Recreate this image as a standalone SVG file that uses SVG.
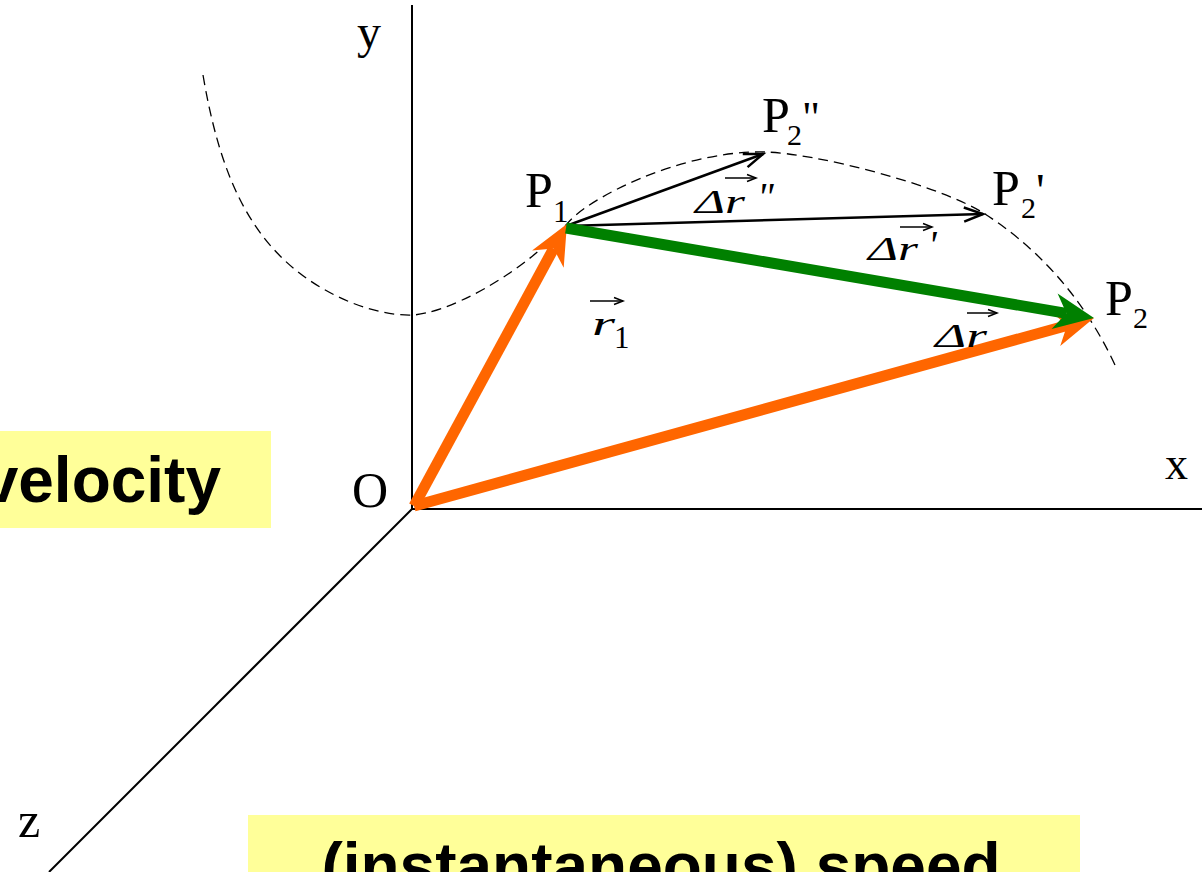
<svg xmlns="http://www.w3.org/2000/svg" width="1202" height="872" viewBox="0 0 1202 872">
<style>
.lbl{font-family:"Liberation Serif","Times New Roman",serif;fill:#000}
.it{font-style:italic}
.big{font-family:"Liberation Sans",Arial,sans-serif;font-weight:bold;font-size:64px;fill:#000}
.axis{stroke:#000;stroke-width:2;fill:none}
.thin{stroke:#000;stroke-width:2.5;fill:none}
.vec{stroke:#000;stroke-width:1.5;fill:none}
</style>
<defs>
<marker id="headO" markerUnits="userSpaceOnUse" markerWidth="50" markerHeight="50" viewBox="0 -25 50 50" refX="12" refY="0" orient="auto" overflow="visible"><path d="M40,0 L0,-18 L12,0 L0,18 Z" fill="#FF6600"/></marker>
<marker id="headG" markerUnits="userSpaceOnUse" markerWidth="50" markerHeight="50" viewBox="0 -25 50 50" refX="12" refY="0" orient="auto" overflow="visible"><path d="M40,0 L0,-18 L12,0 L0,18 Z" fill="#008000"/></marker>
<marker id="headK" markerUnits="userSpaceOnUse" markerWidth="30" markerHeight="30" viewBox="-25 -15 30 30" refX="0" refY="0" orient="auto" overflow="visible"><path d="M-19,-7 L0,0 L-19,7" fill="none" stroke="#000" stroke-width="2.5"/></marker>
<marker id="headV" markerUnits="userSpaceOnUse" markerWidth="16" markerHeight="16" viewBox="-12 -8 16 16" refX="0" refY="0" orient="auto" overflow="visible"><path d="M-9,-3.5 L0,0 L-9,3.5" fill="none" stroke="#000" stroke-width="1.5"/></marker>
</defs>
<rect width="1202" height="872" fill="#fff"/>

<g id="boxes">
<g id="velocity-box"><rect x="-10" y="431" width="281" height="97" fill="#FFFF99"/><text class="big" x="221" y="502" text-anchor="end">velocity</text></g>
<g id="speed-box"><rect x="248" y="815" width="832" height="70" fill="#FFFF99"/><text class="big" x="661" y="888" text-anchor="middle">(instantaneous) speed</text></g>
</g>

<g id="trajectory"><path d="M203,75 C220,175 250,245 320,287 C355,308 390,316 413,315 C445,313 515,280 567,224 C585,200 680,150 765,152 C815,153 940,185 985,214 C1030,243 1080,290 1115,365" fill="none" stroke="#000" stroke-width="1.3" stroke-dasharray="10,6"/></g>

<g id="axes">
<line class="axis" x1="412" y1="5" x2="412" y2="509"/>
<line class="axis" x1="412" y1="509" x2="1202" y2="509"/>
<line class="axis" x1="412" y1="509" x2="49" y2="872"/>
</g>

<g id="connectors">
<line class="thin" x1="566" y1="226" x2="763" y2="154" marker-end="url(#headK)"/>
<line class="thin" x1="566" y1="226" x2="983" y2="214" marker-end="url(#headK)"/>
<line x1="414" y1="506" x2="553.6" y2="248.6" stroke="#FF6600" stroke-width="11" marker-end="url(#headO)"/>
<line x1="414" y1="506" x2="1067" y2="325.5" stroke="#FF6600" stroke-width="11" marker-end="url(#headO)"/>
<line x1="566" y1="228" x2="1066.4" y2="313.3" stroke="#008000" stroke-width="11" marker-end="url(#headG)"/>
</g>

<g id="axis-labels">
<text class="lbl" x="357" y="48" font-size="48">y</text>
<text class="lbl" x="1165" y="479" font-size="46">x</text>
<text class="lbl" x="18" y="837" font-size="50">z</text>
<text class="lbl" x="352" y="507" font-size="50">O</text>
</g>

<g id="P1"><text class="lbl" x="525" y="207" font-size="50">P</text><text class="lbl" x="553" y="222" font-size="31">1</text></g>
<g id="P2pp"><text class="lbl" x="762" y="132" font-size="50">P</text><text class="lbl" x="787" y="145" font-size="30">2</text><text class="lbl" x="802" y="132" font-size="44">"</text></g>
<g id="P2p"><text class="lbl" x="992" y="205" font-size="50">P</text><text class="lbl" x="1021" y="218" font-size="30">2</text><text class="lbl" x="1036" y="207" font-size="48">'</text></g>
<g id="P2"><text class="lbl" x="1105" y="315" font-size="50">P</text><text class="lbl" x="1133" y="328" font-size="30">2</text></g>

<g id="label-dr2pp"><text class="lbl it" x="695" y="213" font-size="34" textLength="50" lengthAdjust="spacingAndGlyphs">Δr</text><line class="vec" x1="725" y1="178" x2="756" y2="178" marker-end="url(#headV)"/><text class="lbl it" x="757" y="210" font-size="40">"</text></g>
<g id="label-dr2p"><text class="lbl it" x="868" y="260" font-size="34" textLength="50" lengthAdjust="spacingAndGlyphs">Δr</text><line class="vec" x1="900" y1="227" x2="932" y2="227" marker-end="url(#headV)"/><text class="lbl it" x="928" y="258" font-size="40">'</text></g>
<g id="label-dr"><text class="lbl it" x="935" y="347" font-size="34" textLength="52" lengthAdjust="spacingAndGlyphs">Δr</text><line class="vec" x1="967" y1="313" x2="997" y2="313" marker-end="url(#headV)"/></g>
<g id="label-r1"><text class="lbl it" x="592" y="335" font-size="34" textLength="23" lengthAdjust="spacingAndGlyphs">r</text><text class="lbl" x="614" y="348" font-size="31">1</text><line class="vec" x1="590" y1="301" x2="623" y2="301" marker-end="url(#headV)"/></g>
</svg>
